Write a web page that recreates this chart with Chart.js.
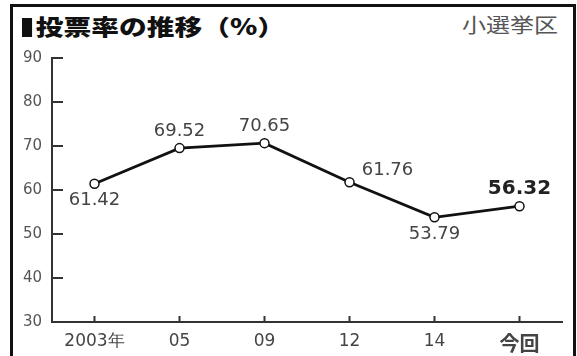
<!DOCTYPE html>
<html lang="ja">
<head>
<meta charset="utf-8">
<script src="https://cdn.jsdelivr.net/npm/chart.js@4.4.1/dist/chart.umd.min.js"></script>
<style>
  html, body { margin: 0; padding: 0; background: #fff; }
  #wrap { position: relative; width: 577px; height: 356px; overflow: hidden; }
  #frame {
    position: absolute; left: 10px; top: 4px; width: 560px; height: 400px;
    border: 3px solid #111; border-bottom: none;
  }
  #title {
    position: absolute; left: 22px; top: 9px; margin: 0;
    font: 900 22px "Noto Sans CJK JP", sans-serif; color: #111;
    transform: scaleX(1.26); transform-origin: left center; white-space: nowrap;
  }
  #title b { display: inline-block; width: 8px; height: 19px; background: #111; margin-right: 3px; vertical-align: -2px; }
  #sub {
    position: absolute; left: 462px; top: 10px;
    font: 20px "Noto Sans CJK JP", sans-serif; color: #555;
    transform: scaleX(1.2); transform-origin: left center; white-space: nowrap;
  }
  canvas { position: absolute; left: 0; top: 0; }
</style>
</head>
<body>
<div id="wrap">
  <div id="frame"></div>
  <div id="title"><b></b>投票率の推移（%）</div>
  <div id="sub">小選挙区</div>
  <canvas id="myChart" width="577" height="356"></canvas>
</div>
<script>
// election labels and turnout (%)
let elections = ['2003年', '05', '09', '12', '14', '今回'];
let turnout = [61.42, 69.52, 70.65, 61.76, 53.79, 56.32];
let yTicks = [30, 40, 50, 60, 70, 80, 90];

// where each value label sits around its point
let labelSpots = ['below', 'above', 'above', 'aboveRight', 'below', 'above'];

const axisColor = '#333';

// inward tick marks on both axes
const tickMarks = {
    id: 'tickMarks',
    afterDraw(chart) {
        const ctx = chart.ctx;
        const x = chart.scales.x, y = chart.scales.y;
        ctx.save();
        ctx.strokeStyle = axisColor;
        ctx.lineWidth = 2;
        yTicks.forEach(v => {
            const py = y.getPixelForValue(v);
            ctx.beginPath();
            ctx.moveTo(x.left, py);
            ctx.lineTo(x.left + 11, py);
            ctx.stroke();
        });
        elections.forEach((_, i) => {
            const px = x.getPixelForValue(i);
            ctx.beginPath();
            ctx.moveTo(px, y.bottom);
            ctx.lineTo(px, y.bottom - 6);
            ctx.stroke();
        });
        ctx.restore();
    }
};

// value labels next to each point
const valueLabels = {
    id: 'valueLabels',
    afterDatasetsDraw(chart) {
        const ctx = chart.ctx;
        const meta = chart.getDatasetMeta(0);
        ctx.save();
        ctx.textAlign = 'center';
        ctx.textBaseline = 'middle';
        meta.data.forEach((pt, i) => {
            const last = i === turnout.length - 1;
            ctx.font = last ? 'bold 20px "DejaVu Sans"' : '18px "DejaVu Sans"';
            ctx.fillStyle = last ? '#222' : '#444';
            let dx = 0, dy = -17;
            if (labelSpots[i] === 'below') dy = 17;
            if (labelSpots[i] === 'aboveRight') { dx = 38; dy = -12; }
            ctx.fillText(turnout[i].toFixed(2), pt.x + dx, pt.y + dy);
        });
        ctx.restore();
    }
};

let ctx = document.getElementById('myChart').getContext('2d');
let myChart = new Chart(ctx, {
    type: 'line',
    data: {
        labels: elections,
        datasets: [{
            data: turnout,
            borderColor: '#111',
            borderWidth: 2.8,
            pointRadius: 4.5,
            pointBorderWidth: 1.5,
            pointBorderColor: '#111',
            pointBackgroundColor: '#fff',
            fill: false,
            tension: 0
        }]
    },
    options: {
        responsive: false,
        animation: false,
        layout: { padding: { left: 12, right: 15, top: 58, bottom: 0 } },
        plugins: { legend: { display: false }, tooltip: { enabled: false } },
        scales: {
            x: {
                offset: true,
                afterFit: (axis) => { axis.height = 34; },
                grid: { display: false, drawTicks: false },
                border: { display: true, color: axisColor, width: 2 },
                ticks: {
                    padding: 9,
                    color: '#444',
                    font: (c) => c.index === 5
                        ? { family: '"Noto Sans CJK JP"', size: 20, weight: 'bold' }
                        : { family: '"DejaVu Sans"', size: 17 }
                }
            },
            y: {
                min: 30,
                max: 90,
                afterFit: (axis) => { axis.width = 40; },
                grid: { display: false, drawTicks: false },
                border: { display: true, color: axisColor, width: 2 },
                ticks: {
                    stepSize: 10,
                    padding: 10,
                    color: '#555',
                    font: { family: '"DejaVu Sans"', size: 15 }
                }
            }
        }
    },
    plugins: [tickMarks, valueLabels]
});
</script>
</body>
</html>
